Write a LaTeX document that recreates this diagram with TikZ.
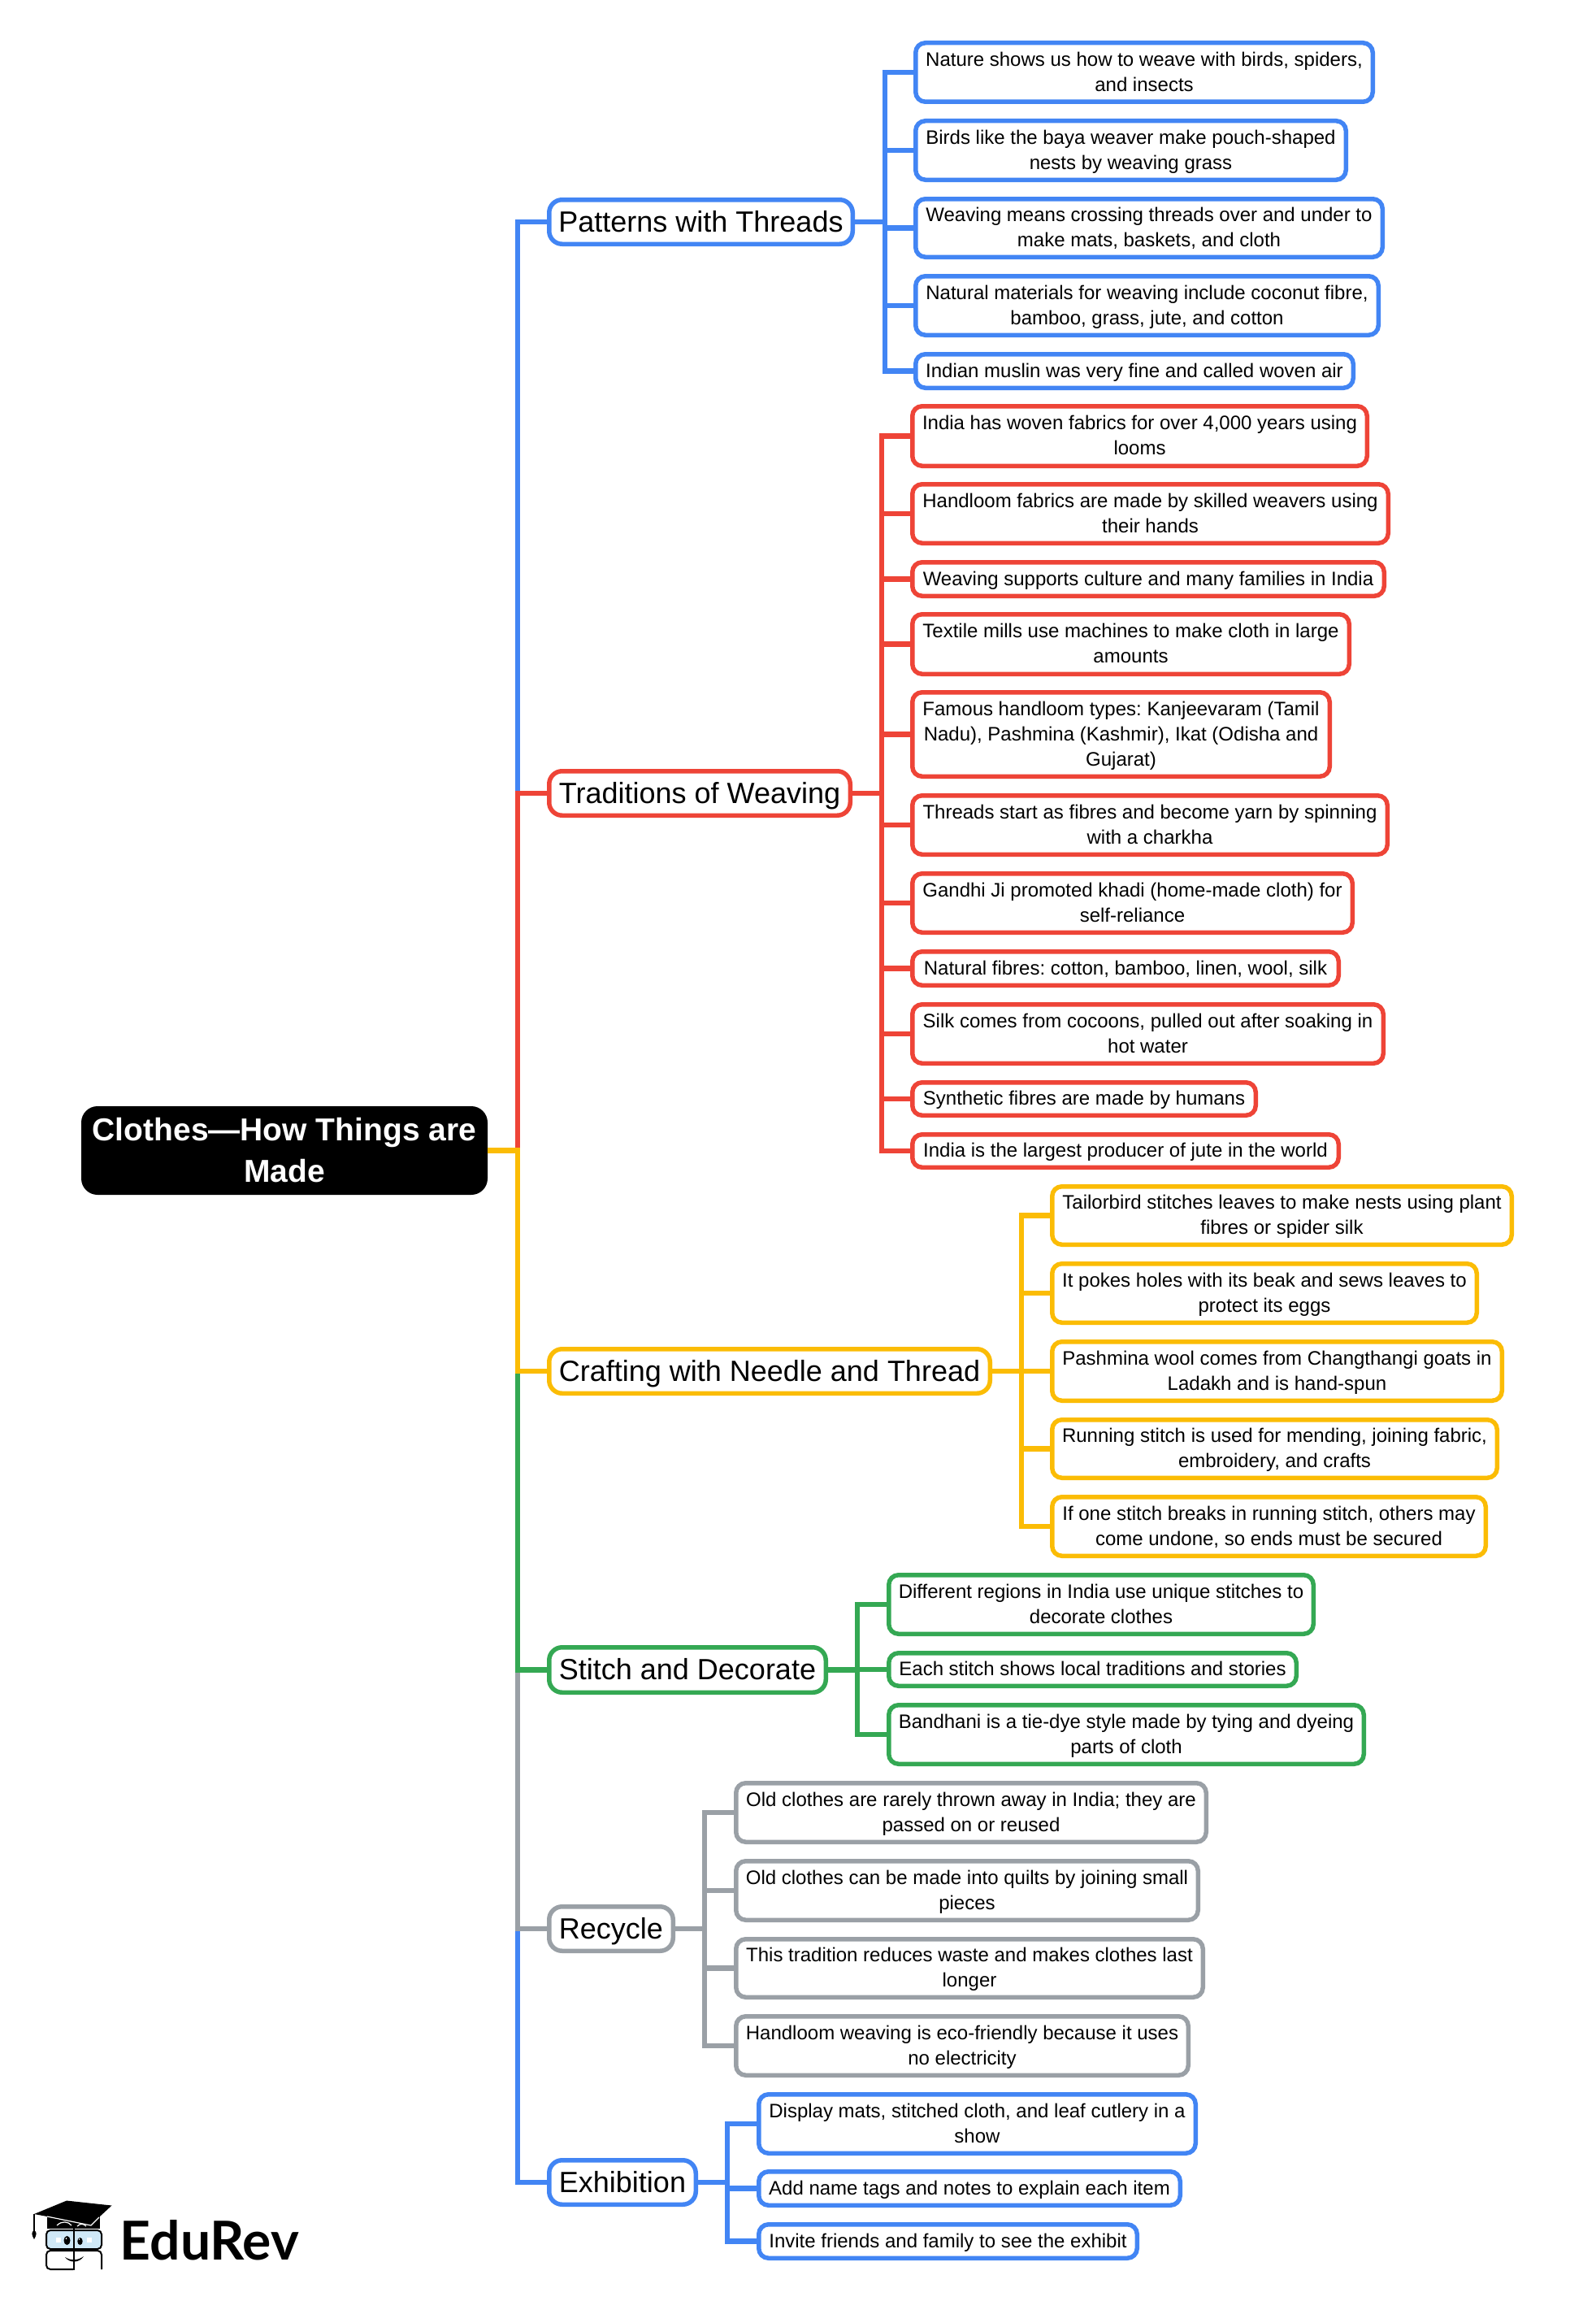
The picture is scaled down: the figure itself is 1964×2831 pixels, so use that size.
\documentclass[tikz,border=0pt]{standalone}
\usepackage{fontspec}
\setmainfont{Liberation Sans}
\newfontfamily\logofont{Lato}
\definecolor{cblue}{HTML}{4285F4}
\definecolor{cred}{HTML}{EE4437}
\definecolor{cyellow}{HTML}{FBBC05}
\definecolor{cgreen}{HTML}{34A853}
\definecolor{cgray}{HTML}{9AA0A6}
\definecolor{cglass}{HTML}{CFE8F7}
\newcommand\topstrut[1]{\rule{0pt}{\dimexpr.7\baselineskip+#1\relax}}
\newcommand\botstrut{\rule[-.3\baselineskip]{0pt}{.3\baselineskip}}
\tikzset{
  steadytext/.style={execute at begin node={\frenchspacing}},
  basebox/.style={steadytext,rounded corners=12pt,fill=white,line width=5.5pt,inner sep=0pt,outer sep=0pt,align=center,text=black},
  leafbox/.style={basebox,draw=#1,font=\fontsize{24}{31}\selectfont},
  branchbox/.style={basebox,draw=#1,rounded corners=16pt,font=\fontsize{36}{44}\selectfont},
  rootbox/.style={steadytext,rounded corners=20pt,fill=black,draw=none,inner sep=0pt,outer sep=0pt,align=center,text=white,font=\fontsize{39}{51}\selectfont\bfseries},
  conn/.style={draw=#1,line width=6.5pt,line join=miter},
}
% name, style, x0, x1, y0, y1 (outer edges), text
\newcommand\mapbox[7]{%
  \pgfmathsetmacro\mbcx{(#3+#4)/2}%
  \pgfmathsetmacro\mbcy{(#5+#6)/2}%
  \pgfmathsetmacro\mbw{#4-#3-5.5}%
  \pgfmathsetmacro\mbh{#6-#5-5.5}%
  \node[#2,minimum width=\mbw pt,minimum height=\mbh pt] (#1) at (\mbcx,\mbcy) {\topstrut{3pt}#7\botstrut};}
\newcommand\elbow[4]{\draw[conn=#1] (#2.east) -- (#2.east -| #3) |- (#4.west);}
\begin{document}
\begin{tikzpicture}[x=1pt,y=-1pt]
\useasboundingbox (0,0) rectangle (1964,2831);
\fill[white] (0,0) rectangle (1964,2831);
% bus positions
\coordinate (trunk) at (637,0);
\coordinate (busA) at (1089,0);
\coordinate (busB) at (1085,0);
\coordinate (busC) at (1257,0);
\coordinate (busD) at (1055,0);
\coordinate (busE) at (867,0);
\coordinate (busF) at (895,0);
% root and branches
\node[rootbox,minimum width=500pt,minimum height=109pt] (root) at (350,1415.5) {\topstrut{7pt}Clothes—How Things are\\Made\botstrut};
\mapbox{patterns}{branchbox=cblue}{673}{1052}{243}{303}{\topstrut{7pt}Patterns with Threads}
\mapbox{traditions}{branchbox=cred}{673}{1049}{946}{1006}{\topstrut{7pt}Traditions of Weaving}
\mapbox{crafting}{branchbox=cyellow}{673}{1221}{1657}{1717}{\topstrut{7pt}Crafting with Needle and Thread}
\mapbox{stitch}{branchbox=cgreen}{673}{1019}{2024}{2085}{\topstrut{7pt}Stitch and Decorate}
\mapbox{recycle}{branchbox=cgray}{673}{831}{2343}{2403}{\topstrut{7pt}Recycle}
\mapbox{exhibition}{branchbox=cblue}{673}{859}{2655}{2715}{\topstrut{7pt}Exhibition}
% Patterns leaves
\mapbox{a1}{leafbox=cblue}{1124}{1692}{50}{128}{Nature shows us how to weave with birds, spiders,\\and insects}
\mapbox{a2}{leafbox=cblue}{1124}{1659}{146}{224}{Birds like the baya weaver make pouch-shaped\\nests by weaving grass}
\mapbox{a3}{leafbox=cblue}{1124}{1704}{242}{319}{Weaving means crossing threads over and under to\\make mats, baskets, and cloth}
\mapbox{a4}{leafbox=cblue}{1124}{1699}{337}{415}{Natural materials for weaving include coconut fibre,\\bamboo, grass, jute, and cotton}
\mapbox{a5}{leafbox=cblue}{1124}{1668}{433}{480}{Indian muslin was very fine and called woven air}
% Traditions leaves
\mapbox{b1}{leafbox=cred}{1120}{1685}{497}{576}{India has woven fabrics for over 4,000 years using\\looms}
\mapbox{b2}{leafbox=cred}{1120}{1711}{593}{671}{Handloom fabrics are made by skilled weavers using\\their hands}
\mapbox{b3}{leafbox=cred}{1120}{1706}{689}{736}{Weaving supports culture and many families in India}
\mapbox{b4}{leafbox=cred}{1120}{1663}{753}{832}{Textile mills use machines to make cloth in large\\amounts}
\mapbox{b5}{leafbox=cred}{1120}{1639}{849}{958}{Famous handloom types: Kanjeevaram (Tamil\\Nadu), Pashmina (Kashmir), Ikat (Odisha and\\Gujarat)}
\mapbox{b6}{leafbox=cred}{1120}{1710}{976}{1054}{Threads start as fibres and become yarn by spinning\\with a charkha}
\mapbox{b7}{leafbox=cred}{1120}{1667}{1072}{1150}{Gandhi Ji promoted khadi (home-made cloth) for\\self-reliance}
\mapbox{b8}{leafbox=cred}{1120}{1650}{1168}{1215}{Natural fibres: cotton, bamboo, linen, wool, silk}
\mapbox{b9}{leafbox=cred}{1120}{1705}{1233}{1311}{Silk comes from cocoons, pulled out after soaking in\\hot water}
\mapbox{b10}{leafbox=cred}{1120}{1548}{1329}{1375}{Synthetic fibres are made by humans}
\mapbox{b11}{leafbox=cred}{1120}{1650}{1393}{1439}{India is the largest producer of jute in the world}
% Crafting leaves
\mapbox{c1}{leafbox=cyellow}{1292}{1863}{1457}{1534}{Tailorbird stitches leaves to make nests using plant\\fibres or spider silk}
\mapbox{c2}{leafbox=cyellow}{1292}{1820}{1552}{1630}{It pokes holes with its beak and sews leaves to\\protect its eggs}
\mapbox{c3}{leafbox=cyellow}{1292}{1851}{1648}{1726}{Pashmina wool comes from Changthangi goats in\\Ladakh and is hand-spun}
\mapbox{c4}{leafbox=cyellow}{1292}{1845}{1744}{1821}{Running stitch is used for mending, joining fabric,\\embroidery, and crafts}
\mapbox{c5}{leafbox=cyellow}{1292}{1831}{1839}{1917}{If one stitch breaks in running stitch, others may\\come undone, so ends must be secured}
% Stitch leaves
\mapbox{d1}{leafbox=cgreen}{1091}{1619}{1935}{2013}{Different regions in India use unique stitches to\\decorate clothes}
\mapbox{d2}{leafbox=cgreen}{1091}{1598}{2031}{2077}{Each stitch shows local traditions and stories}
\mapbox{d3}{leafbox=cgreen}{1091}{1681}{2095}{2173}{Bandhani is a tie-dye style made by tying and dyeing\\parts of cloth}
% Recycle leaves
\mapbox{e1}{leafbox=cgray}{903}{1487}{2191}{2269}{Old clothes are rarely thrown away in India; they are\\passed on or reused}
\mapbox{e2}{leafbox=cgray}{903}{1477}{2287}{2365}{Old clothes can be made into quilts by joining small\\pieces}
\mapbox{e3}{leafbox=cgray}{903}{1483}{2383}{2460}{This tradition reduces waste and makes clothes last\\longer}
\mapbox{e4}{leafbox=cgray}{903}{1465}{2478}{2556}{Handloom weaving is eco-friendly because it uses\\no electricity}
% Exhibition leaves
\mapbox{f1}{leafbox=cblue}{931}{1474}{2574}{2652}{Display mats, stitched cloth, and leaf cutlery in a\\show}
\mapbox{f2}{leafbox=cblue}{931}{1455}{2669}{2716}{Add name tags and notes to explain each item}
\mapbox{f3}{leafbox=cblue}{931}{1402}{2734}{2781}{Invite friends and family to see the exhibit}
% trunk connectors: later ones lie on top of earlier ones
\elbow{cblue}{root}{trunk}{patterns}
\elbow{cred}{root}{trunk}{traditions}
\elbow{cblue}{root}{trunk}{exhibition}
\elbow{cgray}{root}{trunk}{recycle}
\elbow{cgreen}{root}{trunk}{stitch}
\elbow{cyellow}{root}{trunk}{crafting}
% branch connectors
\foreach \k in {a1,a2,a3,a4,a5} {\elbow{cblue}{patterns}{busA}{\k}}
\foreach \k in {b1,b2,b3,b4,b5,b6,b7,b8,b9,b10,b11} {\elbow{cred}{traditions}{busB}{\k}}
\foreach \k in {c1,c2,c3,c4,c5} {\elbow{cyellow}{crafting}{busC}{\k}}
\foreach \k in {d1,d2,d3} {\elbow{cgreen}{stitch}{busD}{\k}}
\foreach \k in {e1,e2,e3,e4} {\elbow{cgray}{recycle}{busE}{\k}}
\foreach \k in {f1,f2,f3} {\elbow{cblue}{exhibition}{busF}{\k}}
% logo
\node[anchor=base west,inner sep=0pt,font=\fontsize{66}{70}\logofont\bfseries] (edurev) at (147.5,2780) {EduRev};
\fill[black] (58,2727) -- (58,2742) -- (123,2742) -- (123,2727) -- cycle;
\fill[black] (42,2724) -- (82,2707.5) -- (137.5,2713.5) -- (112,2737) -- cycle;
\draw[white,line width=1.2pt] (58,2727) -- (112,2738) -- (122,2728);
\draw[white,line width=1.2pt] (70,2738) .. controls (76,2732) and (84,2733) .. (88,2738);
\draw[white,line width=1.2pt] (95,2739) .. controls (99,2735) and (103,2736) .. (106,2739);
\draw[black,line width=1.5pt] (42,2724) -- (42,2745);
\fill[black] (42,2744) .. controls (38,2746) and (39,2750) .. (42,2755) .. controls (45,2750) and (46,2746) .. (42,2744) -- cycle;
\draw[black,line width=2pt,fill=cglass,rounded corners=5pt] (57,2744) rectangle (125,2767);
\fill[white] (69,2753) rectangle (75,2759);
\fill[white] (107,2753) rectangle (113,2759);
\fill[black] (82.5,2756.5) ellipse [x radius=4,y radius=5.5];
\fill[black] (98.5,2757.5) ellipse [x radius=3.2,y radius=4.5];
\fill[white] (81.5,2754) circle [radius=1];
\fill[white] (97.5,2755) circle [radius=.9];
\draw[black,line width=2pt,rounded corners=5pt] (90,2792) -- (57,2792) -- (57,2769) -- (125,2769) -- (125,2792);
\draw[black,line width=2.4pt] (91,2742) -- (91,2793);
\fill[black] (80,2777) .. controls (88,2782) and (96,2781) .. (103,2776) .. controls (98,2784) and (86,2785) .. (80,2777) -- cycle;
\end{tikzpicture}
\end{document}
